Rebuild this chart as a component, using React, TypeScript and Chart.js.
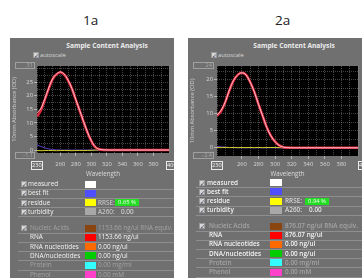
import React, { useEffect, useRef } from "react";
import { Chart, registerables } from "chart.js";

Chart.register(...registerables);

// ---------- data ----------
const wavelengths = [230, 235, 240, 245, 250, 255, 260, 265, 270, 275, 280, 285, 290, 295, 300, 305, 310, 315, 320, 330, 340, 350, 360, 370, 380, 390, 400];

// sample 1a
const measured1 = [13.8, 15.3, 18.8, 22.8, 26.2, 28.0, 28.8, 28.0, 25.8, 22.7, 18.6, 14.6, 10.5, 6.6, 3.4, 1.2, 0.3, 0.05, 0, 0, 0, 0, 0, 0, 0, 0, 0];
const rna1 = [12.3, 14.7, 18.5, 22.6, 26.1, 27.9, 28.7, 27.9, 25.7, 22.6, 18.5, 14.5, 10.4, 6.5, 3.3, 1.1, 0.3, 0.05, 0, 0, 0, 0, 0, 0, 0, 0, 0];
const lowTrace1 = [1.9, 1.3, 0.8, 0.4, 0.15, 0.05, 0, 0, 0, 0, 0, 0, 0, 0, 0, 0, 0, 0, 0, 0, 0, 0, 0, 0, 0, 0, 0];
const residue1 = [-0.2, -0.25, -0.2, -0.15, -0.2, -0.25, -0.2, -0.15, -0.2, -0.25, -0.2, -0.15, -0.2, -0.15, -0.1, -0.05, 0, 0, 0, 0, 0, 0, 0, 0, 0, 0, 0];

// sample 2a
const measured2 = [9.6, 11.0, 13.5, 17.0, 19.8, 21.4, 22.0, 21.4, 19.3, 16.4, 12.8, 9.4, 6.0, 3.5, 1.8, 0.7, 0.2, 0.05, 0, 0, 0, 0, 0, 0, 0, 0, 0];
const rna2 = [9.4, 10.8, 13.4, 16.9, 19.7, 21.4, 22.0, 21.4, 19.3, 16.4, 12.8, 9.4, 6.0, 3.5, 1.8, 0.7, 0.2, 0.05, 0, 0, 0, 0, 0, 0, 0, 0, 0];
const lowTrace2 = [0.4, 0.3, 0.2, 0.1, 0.05, 0, 0, 0, 0, 0, 0, 0, 0, 0, 0, 0, 0, 0, 0, 0, 0, 0, 0, 0, 0, 0, 0];
const residue2 = [0.1, 0.05, 0.1, 0.05, 0.1, 0.05, 0.1, 0.05, 0.1, 0.05, 0.1, 0.05, 0.1, 0.1, 0.1, 0.05, 0, 0, 0, 0, 0, 0, 0, 0, 0, 0, 0];

// axes
const xGridTicks = [230, 240, 250, 260, 270, 280, 290, 300, 310, 320, 330, 340, 350, 360, 370, 380, 390, 400];
const xLabelTicks = [260, 280, 300, 320, 340, 360, 380];
const yGridTicks1 = [0, 2.5, 5, 7.5, 10, 12.5, 15, 17.5, 20, 22.5, 25, 27.5, 30];
const yLabelTicks1 = [0, 5, 10, 15, 20, 25];
const yGridTicks2 = [0, 2.5, 5, 7.5, 10, 12.5, 15, 17.5, 20, 22.5];
const yLabelTicks2 = [0, 5, 10, 15, 20];
const yMin1 = -1.1, yMax1 = 31;
const yMin2 = -2.4, yMax2 = 24;

// table
const traceLabels = ["measured", "best fit", "residue", "turbidity"];
const traceColors = ["#ffffff", "#4f4fff", "#ffff00", "#a8a8a8"];
const compLabels = ["Nucleic Acids", "RNA", "RNA nucleotides", "DNA/nucleotides", "Protein", "Phenol"];
const compColors = ["#8a4410", "#ff0000", "#ff6a00", "#00cc00", "#33ffff", "#ff40c8"];
const compDim = [true, false, false, false, true, true];
const compValues1 = ["1153.66 ng/ul RNA equiv.", "1153.66 ng/ul", "0.00 ng/ul", "0.00 ng/ul", "0.00 mg/ml", "0.00 mM"];
const compValues2 = ["876.07 ng/ul RNA equiv.", "876.07 ng/ul", "0.00 ng/ul", "0.00 ng/ul", "0.00 mg/ml", "0.00 mM"];
const rrse1 = "0.65 %";
const rrse2 = "0.94 %";
const a260Value = "0.00";

const FONT = '"Open Sans", "DejaVu Sans", sans-serif';

const plotBg = {
  id: "plotBg",
  beforeDraw(chart: any) {
    const { ctx, chartArea } = chart;
    if (!chartArea) return;
    ctx.save();
    ctx.fillStyle = "#000";
    ctx.fillRect(chartArea.left, chartArea.top, chartArea.right - chartArea.left, chartArea.bottom - chartArea.top);
    ctx.restore();
  },
};

type ChartProps = {
  left: number; top: number; width: number; height: number;
  measured: number[]; rna: number[]; low: number[]; residue: number[];
  yMin: number; yMax: number; yGrid: number[]; yLabels: number[];
  padTop: number; padRight: number; yAxisWidth: number; xAxisHeight: number; xTickPad: number;
};

function SpectrumChart(p: ChartProps) {
  const ref = useRef<HTMLCanvasElement>(null);
  useEffect(() => {
    const pts = (arr: number[]) => wavelengths.map((x, i) => ({ x, y: arr[i] }));
    const line = (arr: number[], color: string, w: number, order: number) => ({
      data: pts(arr), borderColor: color, borderWidth: w, pointRadius: 0,
      cubicInterpolationMode: "monotone", fill: false, order,
    });
    const gridColor = "rgba(165,165,165,0.6)";
    const chart = new Chart(ref.current as HTMLCanvasElement, {
      type: "line",
      data: {
        datasets: [
          line(p.measured, "rgba(255,225,230,0.95)", 0.9, 0),
          line(p.rna, "#e2283c", 2.6, 1),
          line(p.residue, "#d6cf22", 1, 2),
          line(p.low, "#5a3cc8", 1, 3),
        ] as any,
      },
      options: {
        animation: false,
        responsive: false,
        maintainAspectRatio: false,
        layout: { padding: { top: p.padTop, right: p.padRight, left: 0, bottom: 0 } },
        plugins: { legend: { display: false }, tooltip: { enabled: false } },
        scales: {
          x: {
            type: "linear", min: 230, max: 400,
            afterBuildTicks: (s: any) => { s.ticks = xGridTicks.map((v) => ({ value: v })); },
            afterFit: (s: any) => { s.height = p.xAxisHeight; },
            ticks: {
              color: "#d8d8d8", font: { size: 5.8, family: FONT }, padding: p.xTickPad,
              maxRotation: 0, autoSkip: false,
              callback: (v: any) => (xLabelTicks.includes(Number(v)) ? String(v) : ""),
            },
            grid: {
              color: gridColor, lineWidth: 0.7, tickLength: 3,
              tickColor: (c: any) => (c.tick && xLabelTicks.includes(c.tick.value) ? "#cfcfcf" : "rgba(0,0,0,0)"),
            },
            border: { display: false, dash: [1, 1] },
            title: { display: true, text: "Wavelength", color: "#dcdcdc", font: { size: 6.2, family: FONT }, padding: { top: 0, bottom: 2 } },
          },
          y: {
            type: "linear", min: p.yMin, max: p.yMax,
            afterBuildTicks: (s: any) => { s.ticks = p.yGrid.map((v) => ({ value: v })); },
            afterFit: (s: any) => { s.width = p.yAxisWidth; },
            ticks: {
              color: "#d8d8d8", font: { size: 5.8, family: FONT }, padding: 1, autoSkip: false,
              callback: (v: any) => (p.yLabels.includes(Number(v)) ? String(v) : ""),
            },
            grid: {
              color: gridColor, lineWidth: 0.7, tickLength: 3,
              tickColor: (c: any) => (c.tick && p.yLabels.includes(c.tick.value) ? "#cfcfcf" : "rgba(0,0,0,0)"),
            },
            border: { display: false, dash: [1, 1] },
            title: { display: true, text: "10mm Absorbance (OD)", color: "#cfcfcf", font: { size: 5.8, family: FONT }, padding: { top: 1, bottom: 0 } },
          },
        },
      } as any,
      plugins: [plotBg],
    });
    return () => chart.destroy();
  }, []);
  return (
    <canvas ref={ref} width={p.width} height={p.height}
      style={{ position: "absolute", left: p.left, top: p.top, width: p.width, height: p.height }} />
  );
}

function Check({ x, y }: { x: number; y: number }) {
  return (
    <div style={{
      position: "absolute", left: x, top: y - 3, width: 6, height: 6, background: "#d6d6d6",
      border: "0.5px solid #9a9a9a", boxSizing: "border-box", color: "#3a3a5a", fontSize: 6,
      lineHeight: "6px", textAlign: "center", fontWeight: 700, fontFamily: "DejaVu Sans",
    }}>✓</div>
  );
}

function Txt({ x, y, text, color, size = 6.4, weight = 400 }: any) {
  return (
    <div style={{
      position: "absolute", left: x, top: y - 5, height: 10, lineHeight: "10px", fontSize: size,
      color, fontWeight: weight, whiteSpace: "nowrap", fontFamily: FONT,
    }}>{text}</div>
  );
}

function Box({ x, y, w, h, text, color, border, align = "right" }: any) {
  return (
    <div style={{
      position: "absolute", left: x, top: y, width: w, height: h, border: `1px solid ${border}`,
      boxSizing: "border-box", color, fontSize: 5.6, lineHeight: `${h - 2}px`, textAlign: align,
      paddingRight: 1, overflow: "hidden", whiteSpace: "nowrap", fontFamily: FONT,
    }}>{text}</div>
  );
}

type TableCfg = {
  cbX: number; labelX: number; subLabelX: number; swX: number; swW: number; valX: number;
  rrseBoxX: number; a260ValX: number; rows1: number[]; rows2: number[]; lineL: number; lineR: number;
  weight: number; values: string[]; rrse: string;
};

function Table(c: TableCfg) {
  const els: any[] = [];
  const sep = (y: number, k: string) => (
    <div key={k} style={{ position: "absolute", left: c.lineL, top: y, width: c.lineR - c.lineL, height: 1, background: "#8e8e8e" }} />
  );
  const swatch = (y: number, color: string, k: string) => (
    <div key={k} style={{ position: "absolute", left: c.swX, top: y - 3.5, width: c.swW, height: 7, background: color }} />
  );
  traceLabels.forEach((lab, i) => {
    const y = c.rows1[i];
    els.push(<Check key={"c" + i} x={c.cbX} y={y} />);
    els.push(<Txt key={"t" + i} x={c.labelX} y={y} text={lab} color="#f2f2f2" weight={c.weight} />);
    els.push(swatch(y, traceColors[i], "s" + i));
    els.push(sep(y + 4.5, "l" + i));
  });
  const yR = c.rows1[2];
  els.push(<Txt key="rr" x={c.valX} y={yR} text="RRSE:" color="#d8d8d8" weight={c.weight} />);
  els.push(
    <div key="rrb" style={{
      position: "absolute", left: c.rrseBoxX, top: yR - 3.5, width: 24, height: 7, background: "#22dd22",
      color: "#f4fff4", fontSize: 5.8, lineHeight: "7px", textAlign: "center", fontFamily: FONT,
    }}>{c.rrse}</div>
  );
  const yA = c.rows1[3];
  els.push(<Txt key="a2" x={c.valX} y={yA} text="A260:" color="#d8d8d8" weight={c.weight} />);
  els.push(<Txt key="a2v" x={c.a260ValX} y={yA} text={a260Value} color="#e8e8e8" weight={c.weight} />);

  compLabels.forEach((lab, i) => {
    const y = c.rows2[i];
    const col = compDim[i] ? "#a4a4a4" : "#f4f4f4";
    if (i === 0) els.push(<Check key={"cc" + i} x={c.cbX} y={y} />);
    els.push(<Txt key={"ct" + i} x={c.subLabelX} y={y} text={lab} color={col} weight={c.weight} />);
    els.push(swatch(y, compColors[i], "cs" + i));
    els.push(<Txt key={"cv" + i} x={c.valX} y={y} text={c.values[i]} color={col} weight={c.weight} />);
    els.push(sep(y + 4.5, "cl" + i));
  });
  return <>{els}</>;
}

export default function App() {
  return (
    <div style={{ position: "absolute", left: 0, top: 0, width: 362, height: 278, overflow: "hidden", background: "#fff", fontFamily: FONT }}>
      {/* labels */}
      <div style={{ position: "absolute", left: 83, top: 12, fontSize: 13.5, lineHeight: "16px", color: "#222" }}>1a</div>
      <div style={{ position: "absolute", left: 275, top: 12, fontSize: 13.5, lineHeight: "16px", color: "#222" }}>2a</div>

      {/* panel 1 */}
      <div style={{ position: "absolute", left: 10, top: 38, width: 164, height: 245, background: "#707070", overflow: "hidden" }}>
        <div style={{ position: "absolute", left: -10, top: -38, width: 362, height: 300 }}>
          <div style={{ position: "absolute", left: 47, top: 41, width: 120, textAlign: "center", fontSize: 6.6, fontWeight: 700, color: "#ececec", lineHeight: "10px" }}>Sample Content Analysis</div>
          <Check x={33} y={54.5} />
          <Txt x={40} y={54.5} text="autoscale" color="#d8d8d8" size={5.8} />
          <SpectrumChart left={10} top={56} width={164} height={124}
            measured={measured1} rna={rna1} low={lowTrace1} residue={residue1}
            yMin={yMin1} yMax={yMax1} yGrid={yGridTicks1} yLabels={yLabelTicks1}
            padTop={10} padRight={2} yAxisWidth={27} xAxisHeight={27} xTickPad={5} />
          <Box x={15} y={62} w={20} h={7} text="31" color="#a8a8a8" border="#a0a0a0" />
          <Box x={15} y={152} w={20} h={7} text="-1.1" color="#a8a8a8" border="#a0a0a0" />
          <Box x={31} y={161} w={12} h={9} text="230" color="#f0f0f0" border="#e8e8e8" align="center" />
          <Box x={166} y={161} w={12} h={9} text="400" color="#f0f0f0" border="#e8e8e8" align="center" />
          <Table cbX={21} labelX={28} subLabelX={30} swX={85} swW={11} valX={98} rrseBoxX={115} a260ValX={121}
            rows1={[184, 193.3, 202.6, 211.9]} rows2={[228, 237.3, 246.6, 255.9, 265.2, 274.5]}
            lineL={18} lineR={174} weight={400} values={compValues1} rrse={rrse1} />
        </div>
      </div>

      {/* panel 2 */}
      <div style={{ position: "absolute", left: 188, top: 38, width: 180, height: 245, background: "#707070", overflow: "hidden" }}>
        <div style={{ position: "absolute", left: -188, top: -38, width: 560, height: 300 }}>
          <div style={{ position: "absolute", left: 234, top: 41, width: 120, textAlign: "center", fontSize: 6.6, fontWeight: 700, color: "#ececec", lineHeight: "10px" }}>Sample Content Analysis</div>
          <Check x={211} y={54.5} />
          <Txt x={218} y={54.5} text="autoscale" color="#d8d8d8" size={5.8} />
          <SpectrumChart left={188} top={56} width={176} height={124}
            measured={measured2} rna={rna2} low={lowTrace2} residue={residue2}
            yMin={yMin2} yMax={yMax2} yGrid={yGridTicks2} yLabels={yLabelTicks2}
            padTop={10} padRight={6} yAxisWidth={29} xAxisHeight={24} xTickPad={2} />
          <Box x={193} y={62} w={21} h={7} text="24" color="#a8a8a8" border="#a0a0a0" />
          <Box x={193} y={152} w={21} h={7} text="-2.4" color="#a8a8a8" border="#a0a0a0" />
          <Box x={211} y={161} w={12} h={9} text="230" color="#f0f0f0" border="#e8e8e8" align="center" />
          <Box x={358} y={161} w={12} h={9} text="400" color="#f0f0f0" border="#e8e8e8" align="center" />
          <Table cbX={199} labelX={207} subLabelX={209} swX={270} swW={12} valX={285} rrseBoxX={305} a260ValX={309}
            rows1={[182.7, 191.9, 201.1, 210.3]} rows2={[226, 235.2, 244.4, 253.6, 262.8, 272]}
            lineL={196} lineR={368} weight={600} values={compValues2} rrse={rrse2} />
        </div>
      </div>
    </div>
  );
}
